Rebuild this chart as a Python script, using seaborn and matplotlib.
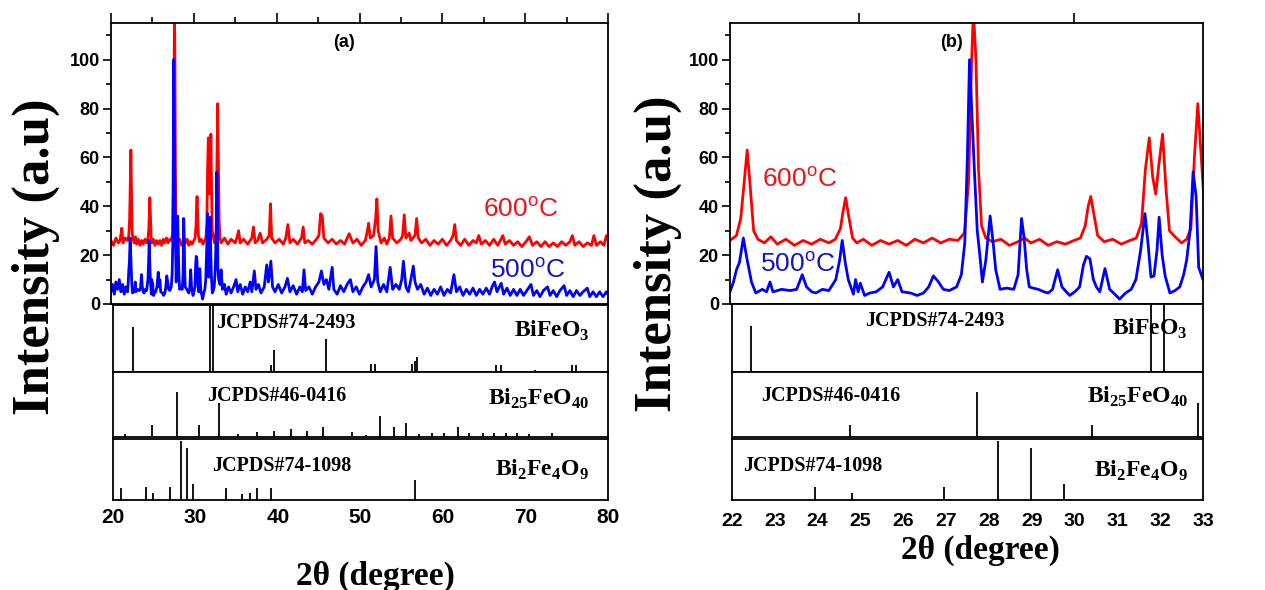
import pandas as pd
import matplotlib
matplotlib.use('Agg')
import matplotlib.pyplot as plt
import seaborn as sns

# ---- XRD scans (2theta in degree, intensity in a.u.) ----
theta_600 = [20.0, 20.3, 20.6, 20.9, 21.1, 21.3, 21.45, 21.7, 22.0,
             22.15, 22.25, 22.33, 22.40, 22.47, 22.55, 22.65, 22.8, 22.95, 23.1, 23.3, 23.5, 23.7, 23.9,
             24.1, 24.3, 24.45, 24.57, 24.63, 24.69, 24.76, 24.85, 24.95, 25.1, 25.3, 25.5, 25.7, 25.9,
             26.1, 26.3, 26.5, 26.7, 26.9, 27.1, 27.3, 27.45, 27.55, 27.62, 27.66, 27.72, 27.78, 27.85,
             27.95, 28.1, 28.3, 28.5, 28.7, 28.85, 29.0, 29.2, 29.4, 29.6, 29.8, 30.0, 30.15, 30.26,
             30.33, 30.39, 30.46, 30.55, 30.7, 30.9, 31.1, 31.3, 31.45, 31.57, 31.66, 31.75, 31.83, 31.9,
             31.98, 32.06, 32.14, 32.22, 32.35, 32.5, 32.62, 32.72, 32.8, 32.88, 32.96, 33.05, 33.15,
             33.3, 33.7, 34.1, 34.5, 35.0, 35.2, 35.4, 35.6, 36.0, 36.5, 37.0, 37.2, 37.4, 37.7, 38.0,
             38.3, 38.8, 39.1, 39.25, 39.4, 39.8, 40.3, 40.8, 41.1, 41.35, 41.6, 42.0, 42.5, 43.0, 43.2,
             43.4, 43.8, 44.3, 44.8, 45.1, 45.3, 45.5, 45.7, 46.2, 46.7, 47.2, 47.7, 48.2, 48.75, 49.2,
             49.7, 50.2, 50.7, 50.95, 51.1, 51.3, 51.7, 51.95, 52.1, 52.25, 52.6, 53.0, 53.3, 53.6, 53.8,
             54.0, 54.5, 55.0, 55.2, 55.4, 55.6, 56.0, 56.2, 56.7, 56.9, 57.1, 57.5, 58.0, 58.5, 59.0,
             59.5, 60.0, 60.5, 61.0, 61.3, 61.5, 61.7, 62.2, 62.7, 63.2, 63.7, 64.1, 64.4, 64.7, 65.2,
             65.7, 66.2, 66.7, 67.0, 67.3, 67.6, 68.1, 68.6, 69.1, 69.6, 70.1, 70.5, 70.9, 71.4, 71.9,
             72.4, 72.9, 73.4, 73.9, 74.4, 74.9, 75.4, 75.7, 76.0, 76.5, 77.0, 77.5, 78.0, 78.3, 78.6,
             79.1, 79.5, 79.8, 80.0]
int_600 = [26, 24, 27, 25, 26, 31, 25, 27, 26,
           28, 35, 50, 63, 48, 30, 26.5, 25, 27.5, 24.5, 26.5, 24, 26, 24.5,
           26.5, 25, 26.5, 31, 38, 43.5, 36, 27, 25, 26.5, 24, 26, 24.5, 26,
           24, 26.5, 25, 27, 25, 26.5, 26, 29, 50, 100, 120, 100, 55, 32,
           27, 25.5, 26.5, 24, 25.5, 27, 25, 26.5, 24, 25.5, 24.5, 26, 27, 32,
           40, 44, 37, 28, 25.5, 26.5, 24.5, 26, 27, 33, 55, 68, 52, 45,
           58, 69.5, 47, 30, 27.5, 25, 26.5, 31, 60, 82, 60, 35, 27,
           25, 27, 24.5, 26.5, 25, 27, 30, 25, 26.5, 24.5, 27, 31.5, 25, 26, 29,
           25, 26.5, 28, 41, 27, 25, 26.5, 24.5, 27, 32.5, 25, 26.5, 24.5, 27, 31.5,
           25, 26, 24.5, 26.5, 28, 37, 36, 27, 25, 26.5, 24.5, 26, 24.5, 28.8, 25,
           26.5, 24, 26, 30, 33, 27, 28, 35, 43, 30, 25, 27, 24.5, 27, 36,
           27, 25, 26.5, 28, 36.5, 27, 29, 26, 28, 35, 27, 25, 26.5, 24, 26,
           24.5, 26.5, 24, 26, 28, 32.5, 26, 24, 26.5, 24, 26, 25, 28, 24.5, 26,
           24, 26.5, 24, 26, 28, 24.5, 26, 24, 25.5, 23.5, 25.5, 27.5, 24, 25.5, 23.5,
           25.5, 23.5, 25, 23.5, 25.5, 24, 25.5, 28, 24, 25.5, 23.5, 25, 24, 28, 24,
           25.5, 24, 28, 26]

theta_500 = [20.0, 20.2, 20.4, 20.6, 20.8, 21.0, 21.2, 21.4, 21.6, 21.8, 22.0,
             22.08, 22.15, 22.22, 22.31, 22.4, 22.5, 22.6, 22.75, 22.85, 22.93, 23.0, 23.2, 23.4, 23.55,
             23.68, 23.78, 23.9, 24.0, 24.15, 24.3, 24.46, 24.55, 24.61, 24.68, 24.75, 24.87, 24.92,
             24.98, 25.03, 25.13, 25.25, 25.4, 25.55, 25.7, 25.8, 25.9, 26.0, 26.2, 26.35, 26.5, 26.62,
             26.73, 26.85, 26.96, 27.1, 27.27, 27.38, 27.46, 27.52, 27.57, 27.62, 27.68, 27.75, 27.81,
             27.87, 27.95, 28.05, 28.12, 28.18, 28.28, 28.43, 28.6, 28.7, 28.78, 28.84, 28.9, 28.96,
             29.05, 29.17, 29.3, 29.4, 29.5, 29.62, 29.72, 29.82, 29.9, 30.02, 30.13, 30.22, 30.29,
             30.37, 30.45, 30.52, 30.6, 30.72, 30.83, 30.95, 31.06, 31.2, 31.33, 31.44, 31.55, 31.65,
             31.72, 31.79, 31.86, 31.93, 31.98, 32.05, 32.12, 32.23, 32.35, 32.46, 32.55, 32.62, 32.7,
             32.77, 32.84, 32.9, 33.0,
             33.15, 33.3, 33.45, 33.7, 33.9, 34.2, 34.5, 34.8, 35.1, 35.3, 35.6, 35.9, 36.2, 36.5, 36.8,
             37.0, 37.3, 37.5, 37.8, 38.1, 38.5, 38.8, 39.0, 39.3, 39.5, 39.8, 40.2, 40.6, 41.0, 41.3,
             41.6, 42.0, 42.4, 42.8, 43.1, 43.3, 43.5, 43.9, 44.3, 44.7, 45.1, 45.4, 45.7, 46.0, 46.3,
             46.7, 46.9, 47.3, 47.7, 48.1, 48.5, 48.9, 49.2, 49.6, 50.0, 50.4, 50.8, 51.1, 51.4, 51.8,
             52.0, 52.2, 52.5, 52.9, 53.3, 53.7, 54.0, 54.4, 54.8, 55.1, 55.3, 55.6, 55.9, 56.2, 56.5,
             56.7, 57.0, 57.4, 57.8, 58.2, 58.6, 59.0, 59.4, 59.8, 60.2, 60.6, 61.0, 61.4, 61.7, 62.1,
             62.5, 62.9, 63.3, 63.7, 64.1, 64.5, 64.9, 65.3, 65.7, 66.0, 66.3, 66.6, 67.1, 67.4, 67.8,
             68.2, 68.6, 69.0, 69.4, 69.8, 70.2, 70.7, 71.0, 71.4, 71.8, 72.2, 72.7, 73.0, 73.4, 73.8,
             74.2, 74.7, 75.0, 75.4, 75.8, 76.2, 76.6, 77.0, 77.5, 77.8, 78.2, 78.6, 79.0, 79.4, 79.8,
             80.0]
int_500 = [5, 8, 4, 9, 6, 10, 5, 8, 4, 7, 5,
           9, 14, 17, 27, 18, 9, 4.5, 6, 5, 9, 5, 6, 5.5, 6,
           12, 7, 5, 4.5, 6, 5.5, 10, 18, 26, 17, 10, 4, 10,
           5, 8.5, 3.5, 4.5, 5, 7, 13, 7, 10, 5, 4.5, 3.5, 4.5, 7,
           11.5, 9, 6, 5.5, 7, 12, 25, 60, 100, 80, 56, 30, 20,
           9, 18, 36, 25, 14, 6, 6.5, 6, 12, 35, 27, 14, 7,
           6.5, 6, 5, 4.5, 6, 14, 7, 5, 3.5, 5, 7, 16, 19.5,
           18.5, 10, 7, 5, 14.5, 6, 4, 2, 4.5, 6, 10, 22, 37,
           25, 11, 11.5, 22, 35.5, 20, 11.5, 4.5, 5.5, 7, 12, 18, 30,
           54, 44, 15, 10,
           8, 14, 6, 8, 4, 7, 4.5, 7, 10, 5, 8, 4, 7, 5, 9,
           5, 13.5, 6, 8, 4.5, 7, 16, 9, 17.5, 7, 5, 8, 4.5, 7, 10.5,
           5, 7.5, 4, 7, 5, 14, 5.5, 7, 4, 7, 9, 13.5, 8, 10, 6,
           15, 6, 4, 7.5, 5, 8, 10, 5, 7, 4, 7, 9, 12, 7, 10,
           23.5, 9, 5, 8, 5, 15, 6, 8, 6, 10, 17.5, 7, 5, 10, 15.5,
           9, 6, 8, 4, 6.5, 3.5, 6, 4, 7, 3.5, 6, 4.5, 12, 5, 7,
           3.5, 6, 4, 6.5, 3.5, 6, 4, 6.5, 4, 7, 9, 5, 8.5, 4, 6.5,
           3.5, 6, 3.5, 6, 3.5, 5.5, 8, 3.5, 5.5, 3, 5.5, 7, 3.5, 5.5, 3,
           5.5, 7.5, 3.5, 5.5, 3, 5.5, 3.5, 5, 6.5, 3, 5, 3, 5, 3, 5,
           4]

# ---- reference patterns (line position, relative height) ----
bfo_pos = [22.45, 31.78, 32.08, 39.1, 39.5, 45.85, 51.3, 51.7, 56.3, 56.6, 56.9,
           66.4, 67.0, 71.1, 75.6, 76.1]
bfo_rel = [0.67, 1.0, 1.0, 0.1, 0.33, 0.49, 0.12, 0.12, 0.12, 0.17, 0.22,
           0.1, 0.1, 0.03, 0.1, 0.1]

b25_pos = [21.4, 24.75, 27.72, 30.41, 32.89, 35.2, 37.5, 39.5, 41.6, 43.5, 45.4, 49.0, 50.7,
           52.4, 54.0, 55.5, 57.1, 58.7, 60.1, 61.8, 63.2, 64.8, 66.2, 67.6, 69.0, 70.4, 73.2]
b25_rel = [0.05, 0.19, 0.69, 0.19, 0.53, 0.05, 0.08, 0.1, 0.12, 0.1, 0.15, 0.08, 0.03,
           0.33, 0.16, 0.21, 0.04, 0.06, 0.06, 0.16, 0.06, 0.06, 0.06, 0.06, 0.06, 0.04, 0.06]

b249_pos = [21.0, 23.95, 24.8, 26.94, 28.22, 28.98, 29.75, 33.7, 35.6, 36.6, 37.5, 39.1, 56.6]
b249_rel = [0.19, 0.22, 0.12, 0.22, 0.97, 0.86, 0.27, 0.2, 0.1, 0.12, 0.2, 0.2, 0.32]

phases = ['BiFeO$_\\mathbf{3}$', 'Bi$_\\mathbf{25}$FeO$_\\mathbf{40}$', 'Bi$_\\mathbf{2}$Fe$_\\mathbf{4}$O$_\\mathbf{9}$']
cards = ['JCPDS#74-2493', 'JCPDS#46-0416', 'JCPDS#74-1098']
temps = ['600$^\\mathrm{o}$C', '500$^\\mathrm{o}$C']

scan600 = pd.DataFrame({'theta': theta_600, 'intensity': int_600})
scan500 = pd.DataFrame({'theta': theta_500, 'intensity': int_500})
sticks = [(bfo_pos, bfo_rel), (b25_pos, b25_rel), (b249_pos, b249_rel)]

sns.set_theme(style='ticks')
plt.rcParams['font.family'] = ['Liberation Sans', 'DejaVu Sans']
plt.rcParams['mathtext.fontset'] = 'custom'
plt.rcParams['mathtext.rm'] = 'Liberation Sans'
plt.rcParams['mathtext.bf'] = 'Liberation Serif:bold'
plt.rcParams['axes.linewidth'] = 1.3
plt.rcParams['axes.edgecolor'] = 'black'
for key in ['text.color', 'axes.labelcolor', 'xtick.color', 'ytick.color',
            'xtick.labelcolor', 'ytick.labelcolor']:
    plt.rcParams[key] = 'black'

W, H = 1265, 590
fig = plt.figure(figsize=(W / 100, H / 100), dpi=100)


def box(x0, y0, x1, y1):
    # axes placed by pixel corners (top-left origin)
    return fig.add_axes([x0 / W, 1 - y1 / H, (x1 - x0) / W, (y1 - y0) / H])


def panel(x0, x1, xlim, top_major, top_minor, xt, xt_size, xt_pad, stick_rows, letter,
          card_x, card_y, phase_x, phase_y, temp_xy):
    ax = box(x0, 23, x1, 304)
    sns.lineplot(data=scan600, x='theta', y='intensity', ax=ax, color='#ff0000',
                 lw=2.0, estimator=None, sort=False)
    sns.lineplot(data=scan500, x='theta', y='intensity', ax=ax, color='#0000ff',
                 lw=2.0, estimator=None, sort=False)
    ax.set_xlim(xlim)
    ax.set_ylim(0, 115)
    ax.set_xlabel('')
    ax.set_ylabel('')
    ax.set_yticks([0, 20, 40, 60, 80, 100], labels=['0', '20', '40', '60', '80', '100'],
                  fontsize=13, fontweight='bold')
    ax.set_yticks([10, 30, 50, 70, 90, 110], minor=True)
    ax.set_xticks(top_major)
    ax.set_xticks(top_minor, minor=True)
    ax.tick_params(axis='x', which='both', bottom=False, top=True, labelbottom=False,
                   labeltop=False, direction='out', color='black', width=1.2)
    ax.tick_params(axis='x', which='major', length=7)
    ax.tick_params(axis='x', which='minor', length=4)
    ax.tick_params(axis='y', which='both', left=True, right=False, direction='out',
                   color='black', width=1.2, pad=2)
    ax.tick_params(axis='y', which='major', length=6)
    ax.tick_params(axis='y', which='minor', length=3.5)
    ax.text(0.468, 0.93, letter, transform=ax.transAxes, ha='center', va='center',
            fontsize=13, fontweight='bold', color='black')
    ax.text(temp_xy[0][0], temp_xy[0][1], temps[0], color='#e8161b', fontsize=19)
    ax.text(temp_xy[1][0], temp_xy[1][1], temps[1], color='#1515c8', fontsize=19)

    for i, ((y0, y1), (pos, rel)) in enumerate(zip(stick_rows, sticks)):
        sx = box(x0 + 2, y0, x1, y1)
        sx.vlines(pos, 0, rel, color='black', lw=1.3)
        sx.set_xlim(xlim)
        sx.set_ylim(0, 1)
        sx.set_yticks([])
        sx.tick_params(axis='x', length=0, labelbottom=False)
        sx.text(card_x[i], card_y[i], cards[i], transform=sx.transAxes, ha='left',
                va='baseline', family='Liberation Serif', fontweight='bold', fontsize=14.5)
        sx.text(phase_x, phase_y[i], phases[i], transform=sx.transAxes, ha='right',
                va='baseline', family='Liberation Serif', fontweight='bold', fontsize=17)
        if i == 2:
            sx.set_xticks(xt, labels=[str(v) for v in xt], fontsize=xt_size,
                          fontweight='bold')
            sx.tick_params(axis='x', length=0, labelbottom=True, pad=xt_pad)
    return ax


panel(111, 608, (20, 80), list(range(20, 81, 10)), list(range(25, 80, 10)),
      list(range(20, 81, 10)), 15, 6,
      [(305, 372), (372, 437), (439, 500)], '(a)',
      [0.208, 0.19, 0.2], [0.66, 0.55, 0.48], 0.962, [0.52, 0.5, 0.39],
      [(64.9, 35.7), (65.8, 10.6)])
panel(730, 1203, (22, 33), [25, 30], [],
      list(range(22, 34)), 14, 9,
      [(304, 372), (372, 437), (439, 500)], '(b)',
      [0.282, 0.062, 0.023], [0.67, 0.55, 0.48], 0.968, [0.54, 0.53, 0.38],
      [(22.74, 48), (22.7, 13.2)])

ylab = dict(family='Liberation Serif', fontweight='bold', fontsize=38, rotation=90,
            ha='center', va='center')
fig.text(36 / W, 1 - 257 / H, 'Intensity (a.u)', **ylab)
fig.text(658 / W, 1 - 254 / H, 'Intensity (a.u)', **ylab)
xlab = dict(family='Liberation Serif', fontweight='bold', fontsize=24, ha='center', va='center')
fig.text(375 / W, 1 - 576 / H, '2\u03b8 (degree)', **xlab)
fig.text(980 / W, 1 - 550 / H, '2\u03b8 (degree)', **xlab)

fig.savefig('out.png', dpi=100)
